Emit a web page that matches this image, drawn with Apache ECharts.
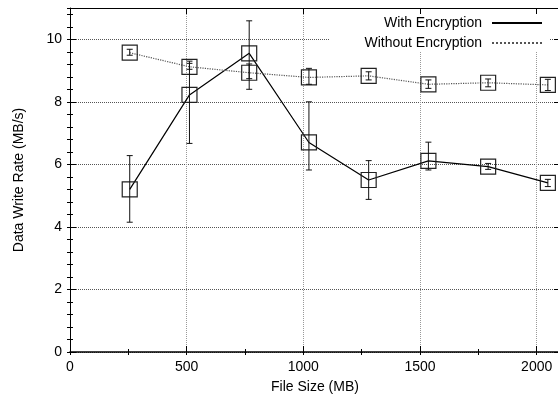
<!DOCTYPE html>
<html><head><meta charset="utf-8">
<script src="https://cdn.jsdelivr.net/npm/echarts@6/dist/echarts.min.js"></script>
<style>html,body{margin:0;padding:0;background:#fff}#c{width:558px;height:400px}</style>
</head><body><div id="c"></div>
<script>
// ---- data ----
const fileSizes   = [256, 512, 768, 1024, 1280, 1536, 1792, 2048];
const withEnc     = [5.20, 8.22, 9.55, 6.70, 5.50, 6.11, 5.93, 5.41];
const withLow     = [4.15, 6.67, 8.40, 5.82, 4.88, 5.82, 5.84, 5.29];
const withHigh    = [6.28, 9.30, 10.59, 8.00, 6.12, 6.71, 6.03, 5.52];
const withoutEnc  = [9.57, 9.12, 8.93, 8.78, 8.83, 8.56, 8.61, 8.54];
const withoutLow  = [9.49, 9.04, 8.74, 8.56, 8.70, 8.43, 8.48, 8.36];
const withoutHigh = [9.68, 9.23, 9.21, 9.07, 8.96, 8.70, 8.73, 8.72];
const xTicks = [0, 500, 1000, 1500, 2000];
const yTicks = [0, 2, 4, 6, 8, 10];

const FONT = 'Liberation Sans, Arial, Helvetica, sans-serif';
const pts = (xs, ys) => xs.map((x, i) => [x, ys[i]]);
const errs = (xs, lo, hi) => xs.map((x, i) => [x, lo[i], hi[i]]);

function errRender(params, api) {
  const x = api.value(0);
  const lo = api.coord([x, api.value(1)]);
  const hi = api.coord([x, api.value(2)]);
  const w = 3;
  const st = { stroke: '#111', lineWidth: 1 };
  return { type: 'group', children: [
    { type: 'line', shape: { x1: lo[0], y1: lo[1], x2: hi[0], y2: hi[1] }, style: st },
    { type: 'line', shape: { x1: lo[0] - w, y1: lo[1], x2: lo[0] + w, y2: lo[1] }, style: st },
    { type: 'line', shape: { x1: hi[0] - w, y1: hi[1], x2: hi[0] + w, y2: hi[1] }, style: st }
  ]};
}

const xMin = 0, xMax = 2100, yMin = 0, yMax = 11;
const majorX = xTicks[1] - xTicks[0], majorY = yTicks[1] - yTicks[0];
const plain = v => String(v);

function mkX(pos, interval, len, opts) {
  return Object.assign({
    type: 'value', position: pos, min: xMin, max: xMax, interval: interval,
    axisLine: { show: false },
    axisTick: { show: true, inside: true, length: len, lineStyle: { color: '#000' } },
    axisLabel: { show: false },
    splitLine: { show: false }
  }, opts || {});
}
function mkY(pos, interval, len, opts) {
  return Object.assign({
    type: 'value', position: pos, min: yMin, max: yMax, interval: interval,
    axisLine: { show: false },
    axisTick: { show: true, inside: true, length: len, lineStyle: { color: '#000' } },
    axisLabel: { show: false },
    splitLine: { show: false }
  }, opts || {});
}

const chart = echarts.init(document.getElementById('c'), null, { renderer: 'canvas' });
chart.setOption({
  animation: false,
  backgroundColor: '#fff',
  textStyle: { fontFamily: FONT },
  grid: { left: 70, right: -2, top: 8, bottom: 48, containLabel: false, outerBoundsMode: 'none' },
  legend: {
    orient: 'vertical', right: 8, top: 14,
    align: 'right',
    padding: [2, 7, 2, 35],
    itemWidth: 50, itemHeight: 14, itemGap: 6,
    backgroundColor: '#fff',
    itemStyle: { opacity: 0 },
    textStyle: { fontSize: 14, color: '#000', fontFamily: FONT, padding: [0, 5, 0, 0] },
    data: ['With Encryption', 'Without Encryption'],
    z: 10
  },
  xAxis: [
    mkX('bottom', majorX, 6, {
      name: 'File Size (MB)', nameLocation: 'middle', nameGap: 28,
      nameTextStyle: { fontSize: 14, color: '#000', fontFamily: FONT },
      axisLine: { show: true, onZero: false, lineStyle: { color: '#000', width: 1.5 } },
      axisLabel: { show: true, fontSize: 14, color: '#000', fontFamily: FONT, margin: 8, showMaxLabel: false, formatter: plain },
      splitLine: { show: true, lineStyle: { color: '#999', type: 'dotted', width: 1 } }
    }),
    mkX('bottom', majorX / 2, 3),
    mkX('top', majorX, 6, { axisLine: { show: true, onZero: false, lineStyle: { color: '#000', width: 1 } } }),
    mkX('top', majorX / 2, 3)
  ],
  yAxis: [
    mkY('left', majorY, 6, {
      name: 'Data Write Rate (MB/s)', nameLocation: 'middle', nameGap: 44,
      nameTextStyle: { fontSize: 14, color: '#000', fontFamily: FONT },
      axisLine: { show: true, onZero: false, lineStyle: { color: '#000', width: 1 } },
      axisLabel: { show: true, fontSize: 14, color: '#000', fontFamily: FONT, margin: 8, showMaxLabel: false, formatter: plain },
      splitLine: { show: true, lineStyle: { color: '#555', type: 'dotted', width: 1 } }
    }),
    mkY('left', majorY / 5, 3),
    mkY('right', majorY, 6, { axisLine: { show: true, onZero: false, lineStyle: { color: '#000', width: 1 } } }),
    mkY('right', majorY / 5, 3)
  ],
  series: [
    {
      name: 'With Encryption', type: 'line', xAxisIndex: 0, yAxisIndex: 0,
      data: pts(fileSizes, withEnc),
      symbol: 'rect', symbolSize: 15, showAllSymbol: true,
      itemStyle: { color: 'rgba(0,0,0,0)', borderColor: '#222', borderWidth: 1.2 },
      lineStyle: { color: '#000', width: 1.2, type: 'solid' },
      z: 3
    },
    {
      name: 'Without Encryption', type: 'line', xAxisIndex: 0, yAxisIndex: 0,
      data: pts(fileSizes, withoutEnc),
      symbol: 'rect', symbolSize: 15, showAllSymbol: true,
      itemStyle: { color: 'rgba(0,0,0,0)', borderColor: '#222', borderWidth: 1.2 },
      lineStyle: { color: '#555', width: 1.2, type: 'dotted' },
      z: 3
    },
    {
      name: 'withErr', type: 'custom', xAxisIndex: 0, yAxisIndex: 0,
      renderItem: errRender, data: errs(fileSizes, withLow, withHigh),
      encode: { x: 0, y: [1, 2] }, z: 4, silent: true
    },
    {
      name: 'withoutErr', type: 'custom', xAxisIndex: 0, yAxisIndex: 0,
      renderItem: errRender, data: errs(fileSizes, withoutLow, withoutHigh),
      encode: { x: 0, y: [1, 2] }, z: 4, silent: true
    }
  ]
});
</script>
</body></html>
